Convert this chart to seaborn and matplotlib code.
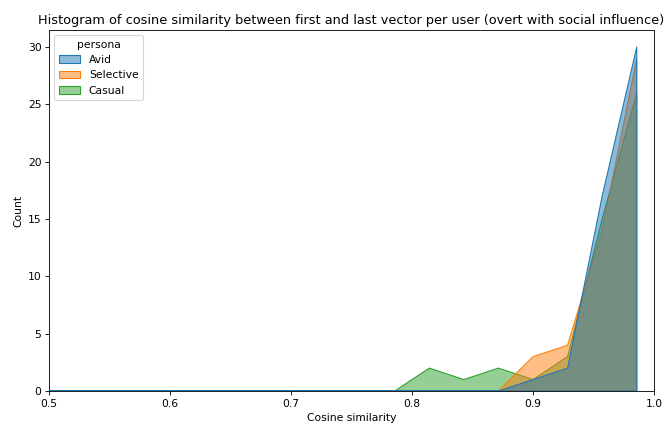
import numpy as np
import pandas as pd
import matplotlib
matplotlib.use("Agg")
import matplotlib.pyplot as plt
import seaborn as sns

# Cosine-similarity bin centres (35 equal bins over [0, 1]) and per-persona user counts
bin_centers = [0.7857, 0.8143, 0.8429, 0.8714, 0.9000, 0.9286, 0.9571, 0.9857]
personas = ["Avid", "Selective", "Casual"]
avid_counts = [0, 0, 0, 0, 1, 2, 17, 30]
selective_counts = [0, 0, 0, 0, 3, 4, 14, 29]
casual_counts = [0, 2, 1, 2, 1, 3, 15, 26]

rows = []
for name, counts in zip(personas, [avid_counts, selective_counts, casual_counts]):
    for c, n in zip(bin_centers, counts):
        rows.append({"cosine": c, "persona": name, "n": n})
df = pd.DataFrame(rows)

DPI = 77.5
fig, ax = plt.subplots(figsize=(666 / DPI, 428 / DPI), dpi=DPI)
sns.histplot(data=df, x="cosine", hue="persona", weights="n", hue_order=personas,
             bins=35, binrange=(0, 1), element="poly", alpha=0.5, ax=ax)
ax.set_xlim(0.5, 1.0)
ax.set_xlabel("Cosine similarity")
ax.set_ylabel("Count")
ax.set_title("Histogram of cosine similarity between first and last vector per user (overt with social influence)")
sns.move_legend(ax, "upper left")
fig.subplots_adjust(left=0.0736, right=0.982, top=0.930, bottom=0.0864)
fig.savefig("out.png", dpi=DPI)
